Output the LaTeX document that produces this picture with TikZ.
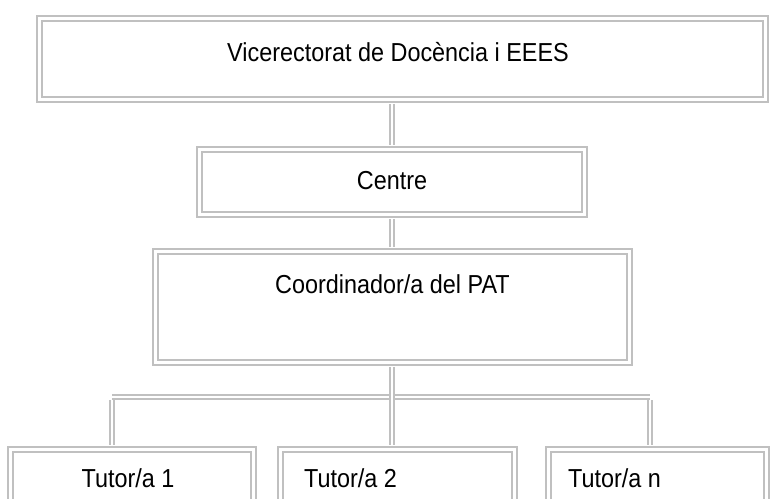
\documentclass[tikz,border=0pt]{standalone}
\usepackage{fontspec}
\setmainfont{Liberation Sans}[FakeStretch=0.9]
\definecolor{orgline}{HTML}{C0C0C0}

\begin{document}
\begin{tikzpicture}[x=1pt, y=-1pt,
    orgbox/.style={draw=orgline, double=white, double distance=2.2pt, line width=2.2pt, inner sep=0pt},
    orglink/.style={draw=orgline, double=white, double distance=2.2pt, line width=2.2pt},
    orgtext/.style={anchor=base, inner sep=0pt, font=\fontsize{26}{30}\selectfont}]
    \useasboundingbox (0,0) rectangle (773,498);
    \clip (0,0) rectangle (773,498);

    % Boxes
    \node[orgbox, minimum width=726pt, minimum height=81pt] (vice) at (402.5,59) {};
    \node[orgbox, minimum width=385pt, minimum height=65pt] (centre) at (392,182) {};
    \node[orgbox, minimum width=474pt, minimum height=111pt] (coord) at (392.5,307) {};
    \node[orgbox, minimum width=243pt, minimum height=81pt] (tutor1) at (132,490) {};
    \node[orgbox, minimum width=234pt, minimum height=81pt] (tutor2) at (397.5,490) {};
    \node[orgbox, minimum width=218pt, minimum height=81pt] (tutorn) at (657.5,490) {};

    % Texts
    \node[orgtext] (tvice) at (398,61) {Vicerectorat de Docència i EEES};
    \node[orgtext] (tcentre) at (392,189) {Centre};
    \node[orgtext] (tcoord) at (392.5,293) {Coordinador/a del PAT};
    \node[orgtext] (ttutor1) at (128,487) {Tutor/a 1};
    \node[orgtext, anchor=base west] (ttutor2) at (304,487) {Tutor/a 2};
    \node[orgtext, anchor=base west] (ttutorn) at (568,487) {Tutor/a n};

    % Connectors
    \coordinate (barL) at (112,397);
    \coordinate (barR) at (650,397);
    \draw[orglink, shorten <=3.3pt, shorten >=3.3pt] (vice.south -| centre.north) -- (centre.north);
    \draw[orglink, shorten <=3.3pt, shorten >=3.3pt] (centre.south) -- (centre.south |- coord.north);
    \draw[orglink] (barL) -- (barR);
    \draw[orglink, shorten <=3.3pt, shorten >=3.3pt] (barL) -- (barL |- tutor1.north);
    \draw[orglink, shorten <=3.3pt, shorten >=3.3pt] (barR) -- (barR |- tutorn.north);
    \draw[orglink, shorten <=3.3pt, shorten >=3.3pt] (coord.south -| centre.south) -- (centre.south |- tutor2.north);
\end{tikzpicture}
\end{document}
